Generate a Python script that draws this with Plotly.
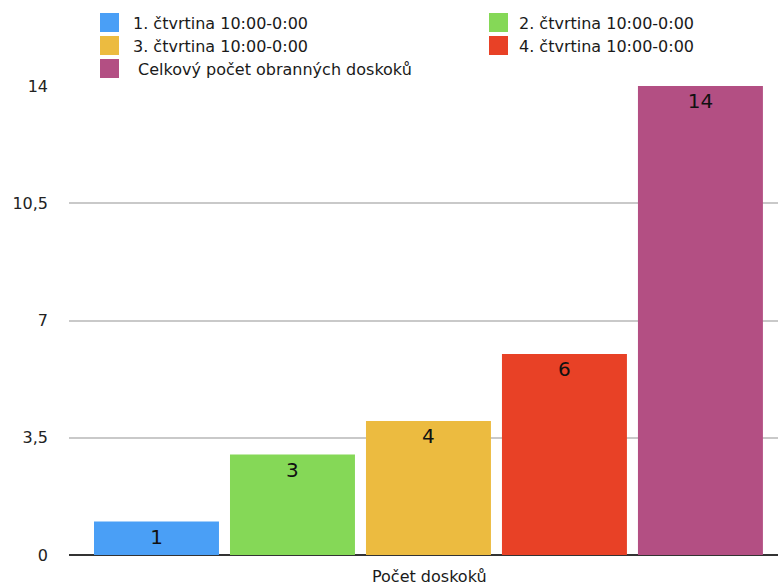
import plotly.graph_objects as go

# Rebound counts per quarter plus the total
category = ["Počet doskoků"]
series_names = [
    "1. čtvrtina 10:00-0:00",
    "2. čtvrtina 10:00-0:00",
    "3. čtvrtina 10:00-0:00",
    "4. čtvrtina 10:00-0:00",
    " Celkový počet obranných doskoků",
]
series_values = [1, 3, 4, 6, 14]
series_colors = ["#4a9ff6", "#85d857", "#ecbb40", "#e84126", "#b34f83"]

tick_vals = [0, 3.5, 7, 10.5, 14]
tick_text = ["0", "3,5", "7", "10,5", "14"]

W, H = 778, 586
ML, MR, MT, MB = 69, 0, 86, 31
FONT = "DejaVu Sans, Verdana, sans-serif"

fig = go.Figure()
for name, val, col in zip(series_names, series_values, series_colors):
    fig.add_trace(go.Bar(
        x=category,
        y=[val],
        name=name,
        marker=dict(color=col, line=dict(width=0)),
        text=[str(val)],
        textposition="inside",
        insidetextanchor="end",
        textangle=0,
        textfont=dict(size=20, color="#111111", family=FONT),
        showlegend=False,
    ))

pw = W - ML - MR
ph = H - MT - MB


def px_x(x):
    return (x - ML) / pw


def px_y(y):
    return (H - MB - y) / ph


# Two-column legend drawn above the plot area
legend_cols = [100, 489]
text_cols = [131, 517]
row_tops = [13, 36, 59]
shapes = []
annotations = []
for i, (name, col) in enumerate(zip(series_names, series_colors)):
    r, c = divmod(i, 2)
    x0 = legend_cols[c]
    y0 = row_tops[r]
    shapes.append(dict(
        type="rect", xref="paper", yref="paper",
        x0=px_x(x0), x1=px_x(x0 + 19), y0=px_y(y0 + 19), y1=px_y(y0),
        fillcolor=col, line=dict(width=0), layer="above",
    ))
    annotations.append(dict(
        xref="paper", yref="paper", x=px_x(text_cols[c]), y=px_y(y0 + 10),
        xanchor="left", yanchor="middle", showarrow=False,
        text=name, font=dict(size=16, color="#1a1a1a", family=FONT),
    ))

annotations.append(dict(
    xref="paper", yref="paper", x=px_x(429), y=px_y(576),
    xanchor="center", yanchor="middle", showarrow=False,
    text=category[0], font=dict(size=16, color="#1a1a1a", family=FONT),
))

fig.update_layout(
    width=W, height=H,
    margin=dict(l=ML, r=MR, t=MT, b=MB, pad=0),
    paper_bgcolor="white", plot_bgcolor="white",
    barmode="group", bargap=0.041, bargroupgap=0.081,
    separators=", ",
    font=dict(family=FONT, size=16, color="#222222"),
    shapes=shapes, annotations=annotations,
    showlegend=False,
)
fig.update_xaxes(
    range=[-0.507, 0.493], showticklabels=False, showgrid=False,
    zeroline=False, showline=False, ticks="",
)
fig.update_yaxes(
    range=[0, 14], tickvals=tick_vals, ticktext=tick_text,
    showgrid=True, gridcolor="#c9c9c9", gridwidth=1.5,
    zeroline=True, zerolinecolor="#333333", zerolinewidth=2,
    showline=False, ticks="", ticklabelstandoff=20,
    tickfont=dict(size=16, color="#222222", family=FONT),
)

fig.write_html("out.html")
